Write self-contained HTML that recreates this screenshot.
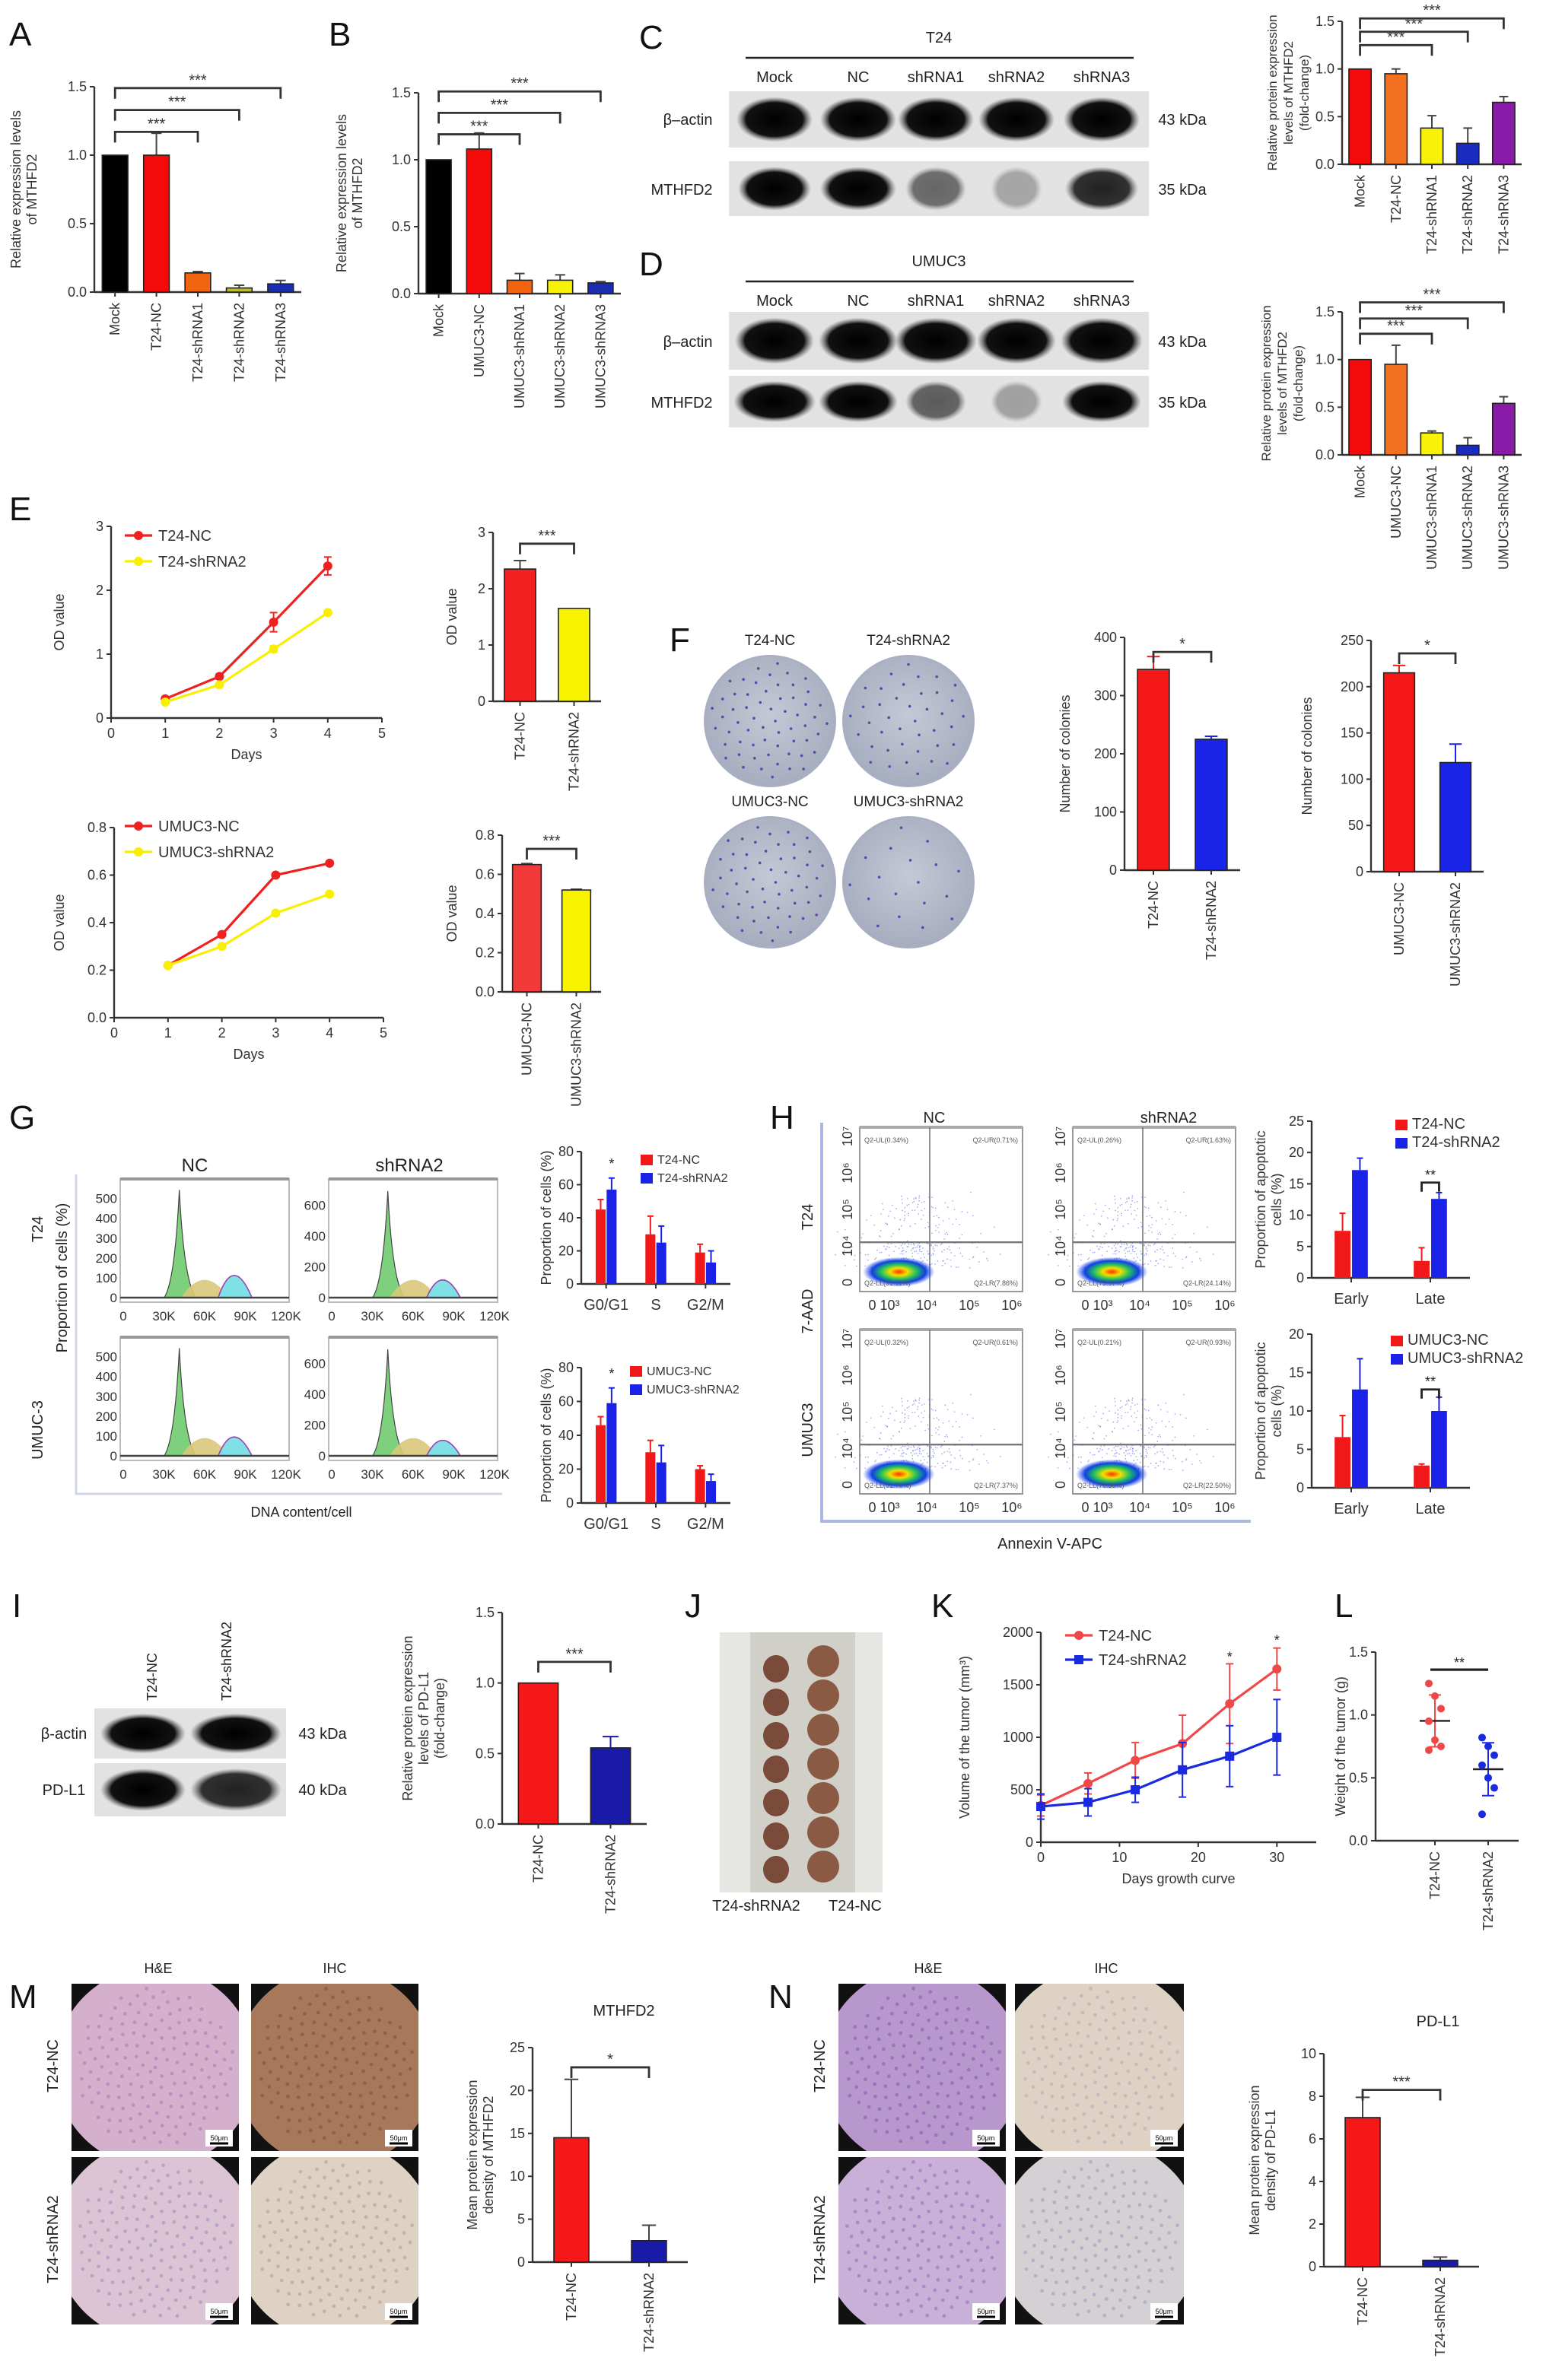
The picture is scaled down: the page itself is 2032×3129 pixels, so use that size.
<!DOCTYPE html>
<html><head><meta charset="utf-8"><style>
html,body{margin:0;padding:0;background:#fff}
svg{display:block;font-family:"Liberation Sans",Arial,sans-serif}
</style></head><body>
<svg id="fig" xmlns="http://www.w3.org/2000/svg" width="2032" height="3129" viewBox="0 0 1016 1564.5">
<defs>
<radialGradient id="blob" cx="50%" cy="50%" r="50%"><stop offset="0" stop-color="#ff3000"/><stop offset="0.25" stop-color="#f0e000"/><stop offset="0.5" stop-color="#20c060"/><stop offset="0.75" stop-color="#1040e0"/><stop offset="1" stop-color="#2040ff" stop-opacity="0"/></radialGradient>
<radialGradient id="band" cx="50%" cy="50%" r="50%"><stop offset="0" stop-color="#000"/><stop offset="0.75" stop-color="#111"/><stop offset="1" stop-color="#555" stop-opacity="0"/></radialGradient>
<radialGradient id="plate" cx="50%" cy="45%" r="55%"><stop offset="0" stop-color="#c4c9d6"/><stop offset="1" stop-color="#a6adbe"/></radialGradient>
</defs>
<g id="root"></g>
</svg>
<script>
// ---------- data ----------
const catsA=['Mock','T24-NC','T24-shRNA1','T24-shRNA2','T24-shRNA3'];
const valsA=[1,1,0.14,0.03,0.06];
const errsA=[0,0.16,0.01,0.02,0.025];
const catsB=['Mock','UMUC3-NC','UMUC3-shRNA1','UMUC3-shRNA2','UMUC3-shRNA3'];
const valsB=[1,1.08,0.1,0.1,0.08];
const errsB=[0,0.12,0.05,0.04,0.01];
const catsC=['Mock','T24-NC','T24-shRNA1','T24-shRNA2','T24-shRNA3'];
const valsC=[1,0.95,0.38,0.22,0.65];
const errsC=[0,0.05,0.13,0.16,0.06];
const catsD=['Mock','UMUC3-NC','UMUC3-shRNA1','UMUC3-shRNA2','UMUC3-shRNA3'];
const valsD=[1,0.95,0.23,0.1,0.54];
const errsD=[0,0.2,0.02,0.08,0.07];
const ticks15=[0,0.5,1.0,1.5];
const days=[1,2,3,4];
const e1NC=[0.3,0.65,1.5,2.38];
const e1NCerr=[0.03,0.04,0.15,0.14];
const e1SH=[0.25,0.52,1.08,1.65];
const e1SHerr=[0.02,0.03,0.05,0.04];
const e1Bar=[2.35,1.65];
const e1BarErr=[0.15,0.0];
const e2NC=[0.22,0.35,0.6,0.65];
const e2SH=[0.22,0.3,0.44,0.52];
const e2Bar=[0.65,0.52];
const e2BarErr=[0.005,0.004];
const f1Vals=[345,225];
const f1Errs=[22,5];
const f2Vals=[215,118];
const f2Errs=[8,20];
const gCats=['G0/G1','S','G2/M'];
const g1NC=[45,30,19];
const g1NCerr=[6,11,5];
const g1SH=[57,25,13];
const g1SHerr=[7,10,7];
const g2NC=[46,30,20];
const g2NCerr=[5,7,2];
const g2SH=[59,24,13];
const g2SHerr=[9,10,4];
const hCats=['Early','Late'];
const h1NC=[7.5,2.7];
const h1NCerr=[2.8,2.1];
const h1SH=[17.2,12.6];
const h1SHerr=[1.9,1];
const h2NC=[6.6,2.9];
const h2NCerr=[2.8,0.2];
const h2SH=[12.8,10];
const h2SHerr=[4,1.8];
const iVals=[1,0.54];
const iErrs=[0,0.08];
const kDays=[0,6,12,18,24,30];
const kNC=[350,560,780,940,1320,1650];
const kNCerr=[100,100,170,270,380,200];
const kSH=[340,380,500,690,820,1000];
const kSHerr=[120,130,120,260,290,360];
const lNC=[1.25,1.15,1.05,0.95,0.8,0.75,0.72];
const lSH=[0.82,0.75,0.68,0.6,0.5,0.42,0.21];
const mVals=[14.5,2.5];
const mErrs=[6.8,1.8];
const nVals=[7,0.3];
const nErrs=[0.95,0.15];
const pairCats=['T24-NC','T24-shRNA2'];
const pairCatsU=['UMUC3-NC','UMUC3-shRNA2'];

// ---------- helpers ----------
const NS='http://www.w3.org/2000/svg';
const root=document.getElementById('root');
function mk(tag,attrs,parent,name){
  const e=document.createElementNS(NS,tag);
  for(const k in attrs)e.setAttribute(k,attrs[k]);
  
  
  (parent||root).appendChild(e);return e;
}
function txt(x,y,s,size,parent,name,opt){
  opt=opt||{};
  const a={x:x,y:y,'font-size':size,fill:opt.fill||'#222','text-anchor':opt.anchor||'middle'};
  if(opt.rot!==undefined)a.transform='rotate('+opt.rot+' '+x+' '+y+')';
  const t=mk('text',a,parent,name);t.textContent=s;return t;
}
function line(x1,y1,x2,y2,parent,name,c,w){return mk('line',{x1:x1,y1:y1,x2:x2,y2:y2,stroke:c||'#222','stroke-width':w||1},parent,name);}
function panelLabel(x,y,s){txt(x,y,s,22,root,'panel-label-'+s.toLowerCase(),{anchor:'start',fill:'#111'});}
function fmt(v,d){return d===undefined?String(v):v.toFixed(d);}

function yAxis(g,c){
  const sy=v=>c.yb-(v/c.max)*(c.yb-c.yt);
  line(c.x0,c.yb,c.x0,c.yt,g,'y-axis-line','#333',1.2);
  c.ticks.forEach(t=>{line(c.x0-3,sy(t),c.x0,sy(t),g,'y-tick','#333',1);
    txt(c.x0-5,sy(t)+3,fmt(t,c.dec),c.fs||9,g,'y-tick-label',{anchor:'end',fill:'#333'});});
  if(c.ylab){const n=c.ylab.length;c.ylab.forEach((l,i)=>txt(c.ylx-(n-1-i)*10.5,(c.yb+c.yt)/2,l,c.yfs||9,g,'y-axis-title',{rot:-90,fill:'#333'}));}
  return sy;
}
function barChart(name,c){
  const g=mk('g',{},root,name);
  const sy=yAxis(g,c);
  line(c.x0,c.yb,c.x1,c.yb,g,'x-axis-line','#333',1.2);
  const n=c.vals.length,bw=(c.x1-c.x0)/n;
  c.vals.forEach((v,i)=>{
    const cx=c.x0+bw*(i+0.5),w=bw*(c.bwf||0.62);
    if(c.errs[i]>0){line(cx,sy(v),cx,sy(v+c.errs[i]),g,'error-bar',c.ecol?c.ecol[i]:'#444',1);
      line(cx-w*0.2,sy(v+c.errs[i]),cx+w*0.2,sy(v+c.errs[i]),g,'error-cap',c.ecol?c.ecol[i]:'#444',1);}
    mk('rect',{x:cx-w/2,y:sy(v),width:w,height:c.yb-sy(v),fill:c.colors[i],stroke:'#222','stroke-width':0.8},g,'bar-'+c.cats[i].toLowerCase());
    line(cx,c.yb,cx,c.yb+3,g,'x-tick','#333',1);
    txt(cx+3,c.yb+7,c.cats[i],c.cfs||9,g,'x-tick-label',{anchor:'end',rot:-90,fill:'#333'});
  });
  (c.sig||[]).forEach(s=>{
    const xa=c.x0+bw*(s[0]+0.5),xb=c.x0+bw*(s[1]+0.5),y=sy(s[2]);
    mk('path',{d:'M'+xa+' '+(y+7)+'V'+y+'H'+xb+'V'+(y+7),fill:'none',stroke:'#333','stroke-width':1.4},g,'significance-bracket');
    txt((xa+xb)/2,y-2,s[3],10,g,'significance-label',{fill:'#333'});
  });
  return g;
}
function groupedBar(name,c){
  const g=mk('g',{},root,name);
  const sy=yAxis(g,c);
  line(c.x0,c.yb,c.x1,c.yb,g,'x-axis-line','#333',1.2);
  const n=c.cats.length,bw=(c.x1-c.x0)/n,w=bw*c.bwf;
  c.cats.forEach((cat,i)=>{
    const cx=c.x0+bw*(i+0.5);
    [[c.a,c.ae,'#f01818',-1],[c.b,c.be,'#1a22e8',1]].forEach(sr=>{
      const v=sr[0][i],e=sr[1][i],x=cx+sr[3]*w*0.55;
      line(x,sy(v),x,sy(v+e),g,'error-bar',sr[2],1);
      line(x-2,sy(v+e),x+2,sy(v+e),g,'error-cap',sr[2],1);
      mk('rect',{x:x-w/2,y:sy(v),width:w,height:c.yb-sy(v),fill:sr[2]},g,'bar-'+cat.toLowerCase());
    });
    line(cx,c.yb,cx,c.yb+3,g,'x-tick','#333',1);
    txt(cx,c.yb+17,cat,c.cfs||10,g,'x-tick-label',{fill:'#333'});
  });
  c.leg.forEach((l,i)=>{mk('rect',{x:c.lx,y:c.ly+i*12-6,width:8,height:7,fill:i?'#1a22e8':'#f01818'},g,'legend-swatch');
    txt(c.lx+11,c.ly+i*12,l,c.lfs||9,g,'legend-entry',{anchor:'start',fill:'#333'});});
  (c.sig||[]).forEach(s=>{const cx=c.x0+bw*(s[0]+0.5),y=sy(s[1]);
    if(s[3]){mk('path',{d:'M'+(cx-w*0.55)+' '+(y+6)+'V'+y+'H'+(cx+w*0.55)+'V'+(y+6),fill:'none',stroke:'#222','stroke-width':1.4},g,'significance-bracket');}
    txt(cx+(s[3]?0:w*0.55),y-2,s[2],9,g,'significance-label',{fill:'#222'});});
  return g;
}
function lineChart(name,c){
  const g=mk('g',{},root,name);
  const sy=yAxis(g,c);
  const sx=v=>c.x0+(v-c.xmin)/(c.xmax-c.xmin)*(c.x1-c.x0);
  line(c.x0,c.yb,c.x1,c.yb,g,'x-axis-line','#333',1.2);
  c.xticks.forEach(t=>{line(sx(t),c.yb,sx(t),c.yb+3,g,'x-tick','#333',1);txt(sx(t),c.yb+13,String(t),9,g,'x-tick-label',{fill:'#333'});});
  txt((c.x0+c.x1)/2,c.yb+27,c.xlab,9,g,'x-axis-title',{fill:'#333'});
  c.series.forEach(s=>{
    let d='';c.xs.forEach((x,i)=>{d+=(i?'L':'M')+sx(x)+' '+sy(s.v[i]);});
    if(s.e)c.xs.forEach((x,i)=>{line(sx(x),sy(s.v[i]-s.e[i]),sx(x),sy(s.v[i]+s.e[i]),g,'error-bar',s.col,1);
      line(sx(x)-2.5,sy(s.v[i]+s.e[i]),sx(x)+2.5,sy(s.v[i]+s.e[i]),g,'error-cap',s.col,1);
      line(sx(x)-2.5,sy(s.v[i]-s.e[i]),sx(x)+2.5,sy(s.v[i]-s.e[i]),g,'error-cap',s.col,1);});
    mk('path',{d:d,fill:'none',stroke:s.col,'stroke-width':1.6},g,'series-line');
    c.xs.forEach((x,i)=>{if(s.sq)mk('rect',{x:sx(x)-3,y:sy(s.v[i])-3,width:6,height:6,fill:s.col},g,'series-point');
      else mk('circle',{cx:sx(x),cy:sy(s.v[i]),r:3,fill:s.col},g,'series-point');});
  });
  c.leg.forEach((l,i)=>{const y=c.ly+i*c.lgap;line(c.lx,y,c.lx+18,y,g,'legend-line',c.series[i].col,1.6);
    if(c.series[i].sq)mk('rect',{x:c.lx+6,y:y-3,width:6,height:6,fill:c.series[i].col},g,'legend-marker');
    else mk('circle',{cx:c.lx+9,cy:y,r:3,fill:c.series[i].col},g,'legend-marker');
    txt(c.lx+22,y+3.5,l,10,g,'legend-entry',{anchor:'start',fill:'#333'});});
  return {g:g,sx:sx,sy:sy};
}

// ---------- A ----------
panelLabel(6,30,'A');
barChart('chart-a',{x0:62,x1:198,yb:192,yt:57,max:1.5,ticks:ticks15,dec:1,vals:valsA,errs:errsA,cats:catsA,
 colors:['#000','#f50a0a','#f26510','#b9bd2a','#1a2cb0'],ylab:['Relative expression levels','of MTHFD2'],ylx:24,
 sig:[[0,2,1.17,'***'],[0,3,1.33,'***'],[0,4,1.49,'***']]});
// ---------- B ----------
panelLabel(216,30,'B');
barChart('chart-b',{x0:275,x1:408,yb:193,yt:61,max:1.5,ticks:ticks15,dec:1,vals:valsB,errs:errsB,cats:catsB,
 colors:['#000','#f50a0a','#f26510','#f8f208','#1a2cb0'],ylab:['Relative expression levels','of MTHFD2'],ylx:238,
 sig:[[0,2,1.19,'***'],[0,3,1.35,'***'],[0,4,1.51,'***']]});

// ---------- blots ----------
function blot(name,x,y,w,h,cols,intens,widths){
  const g=mk('g',{},root,name);
  mk('rect',{x:x,y:y,width:w,height:h,fill:'#e2e2e2'},g,'blot-background');
  cols.forEach((cx,i)=>{mk('ellipse',{cx:cx,cy:y+h/2,rx:(widths?widths[i]:25),ry:h*0.4,fill:'url(#band)',opacity:intens[i]},g,'blot-band');});
  return g;
}
const colsC=[509,564,615,668,724];
function blotHeader(name,y,title){
  const g=mk('g',{},root,name);
  txt(617,y,title,10,g,'blot-title');
  line(490,y+10,745,y+10,g,'blot-header-line','#222',1.2);
  ['Mock','NC','shRNA1','shRNA2','shRNA3'].forEach((s,i)=>txt(colsC[i],y+26,s,10,g,'lane-label'));
}
panelLabel(420,32,'C');
blotHeader('blot-c-header',28,'T24');
blot('blot-c-actin',479,60,276,37,colsC,[1,1,1,1,1]);
blot('blot-c-mthfd2',479,106,276,36,colsC,[1,1,0.55,0.28,0.85],[24,25,20,17,24]);
txt(452,82,'β–actin',10,root,'row-label-beta-actin');
txt(448,128,'MTHFD2',10,root,'row-label-mthfd2');
txt(777,82,'43 kDa',10,root,'kda-label');txt(777,128,'35 kDa',10,root,'kda-label');
panelLabel(420,181,'D');
blotHeader('blot-d-header',175,'UMUC3');
blot('blot-d-actin',479,205,276,38,colsC,[1,1,1,1,1],[26,26,27,26,27]);
blot('blot-d-mthfd2',479,247,276,34,colsC,[1,1,0.6,0.3,1],[27,26,20,17,26]);
txt(452,228,'β–actin',10,root,'row-label-beta-actin');
txt(448,268,'MTHFD2',10,root,'row-label-mthfd2');
txt(777,228,'43 kDa',10,root,'kda-label');txt(777,268,'35 kDa',10,root,'kda-label');
const colC=['#f50a0a','#f27020','#f8f208','#1a2cc0','#8a1aa8'];
barChart('chart-c',{x0:882,x1:1000,yb:108,yt:14,max:1.5,ticks:ticks15,dec:1,vals:valsC,errs:errsC,cats:catsC,colors:colC,
 ylab:['Relative protein expression','levels of MTHFD2','(fold-change)'],ylx:860,yfs:8.5,
 sig:[[0,2,1.25,'***'],[0,3,1.39,'***'],[0,4,1.53,'***']]});
barChart('chart-d',{x0:882,x1:1000,yb:299,yt:205,max:1.5,ticks:ticks15,dec:1,vals:valsD,errs:errsD,cats:catsD,colors:colC,
 ylab:['Relative protein expression','levels of MTHFD2','(fold-change)'],ylx:856,yfs:8.5,
 sig:[[0,2,1.27,'***'],[0,3,1.43,'***'],[0,4,1.6,'***']]});

// ---------- E ----------
panelLabel(6,342,'E');
lineChart('chart-e-line-t24',{x0:73,x1:251,yb:472,yt:346,max:3,ticks:[0,1,2,3],dec:0,xmin:0,xmax:5,xticks:[0,1,2,3,4,5],xlab:'Days',
 xs:days,series:[{v:e1NC,e:e1NCerr,col:'#f02020'},{v:e1SH,e:e1SHerr,col:'#f8f000'}],leg:['T24-NC','T24-shRNA2'],lx:82,ly:352,lgap:17,
 ylab:['OD value'],ylx:42});
barChart('chart-e-bar-t24',{x0:324,x1:395,yb:461,yt:350,max:3,ticks:[0,1,2,3],dec:0,vals:e1Bar,errs:e1BarErr,cats:['T24-NC','T24-shRNA2'],
 colors:['#f22020','#f8f400'],bwf:0.58,ylab:['OD value'],ylx:300,sig:[[0,1,2.8,'***']]});
lineChart('chart-e-line-umuc3',{x0:75,x1:252,yb:669,yt:544,max:0.8,ticks:[0,0.2,0.4,0.6,0.8],dec:1,xmin:0,xmax:5,xticks:[0,1,2,3,4,5],xlab:'Days',
 xs:days,series:[{v:e2NC,col:'#f02020'},{v:e2SH,col:'#f8f000'}],leg:['UMUC3-NC','UMUC3-shRNA2'],lx:82,ly:543,lgap:17,
 ylab:['OD value'],ylx:42});
barChart('chart-e-bar-umuc3',{x0:330,x1:395,yb:652,yt:549,max:0.8,ticks:[0,0.2,0.4,0.6,0.8],dec:1,vals:e2Bar,errs:e2BarErr,cats:['UMUC3-NC','UMUC3-shRNA2'],
 colors:['#f23a3a','#f8f400'],bwf:0.58,ylab:['OD value'],ylx:300,sig:[[0,1,0.73,'***']]});

// ---------- F ----------
panelLabel(440,428,'F');
[[506,474,'T24-NC',60],[597,474,'T24-shRNA2',40],[506,580,'UMUC3-NC',55],[597,580,'UMUC3-shRNA2',18]].forEach(p=>{
  const g=mk('g',{},root,'colony-plate-'+p[2].toLowerCase());
  mk('ellipse',{cx:p[0],cy:p[1],rx:43,ry:43,fill:'url(#plate)',stroke:'#a8aec4','stroke-width':1},g,'plate');
  txt(p[0],p[1]-50,p[2],9.5,g,'plate-label');
  for(let i=0;i<p[3];i++){const a=(i*137.5)*Math.PI/180,r=39*Math.sqrt((i+0.5)/p[3]);
    mk('circle',{cx:p[0]+r*Math.cos(a),cy:p[1]+r*Math.sin(a),r:0.9,fill:'#5a4aa8'},g,'colony');}
});
barChart('chart-f-t24',{x0:739,x1:815,yb:572,yt:419,max:400,ticks:[0,100,200,300,400],vals:f1Vals,errs:f1Errs,cats:pairCats,
 colors:['#f51818','#1a24e8'],bwf:0.55,ecol:['#f51818','#1a24e8'],ylab:['Number of colonies'],ylx:703,sig:[[0,1,375,'*']]});
barChart('chart-f-umuc3',{x0:901,x1:975,yb:573,yt:421,max:250,ticks:[0,50,100,150,200,250],vals:f2Vals,errs:f2Errs,cats:pairCatsU,
 colors:['#f51818','#1a24e8'],bwf:0.55,ecol:['#f51818','#1a24e8'],ylab:['Number of colonies'],ylx:862,sig:[[0,1,236,'*']]});

// ---------- G histograms ----------
panelLabel(6,742,'G');
mk('path',{d:'M50 772V982H330',fill:'none',stroke:'#d0d6ec','stroke-width':1.5},root,'histogram-frame');
txt(128,770,'NC',12,root,'col-label-nc');txt(269,770,'shRNA2',12,root,'col-label-shrna2');
txt(28,808,'T24',10,root,'row-label-t24',{rot:-90});txt(28,940,'UMUC-3',10,root,'row-label-umuc3',{rot:-90});
txt(44,840,'Proportion of cells (%)',10,root,'y-axis-title',{rot:-90});
txt(198,997,'DNA content/cell',9,root,'x-axis-title');
function histo(name,x,y,w,h,ticks,tmax,p1,p2){
  const g=mk('g',{},root,name);
  mk('rect',{x:x,y:y,width:w,height:h,fill:'#fff',stroke:'#bbb','stroke-width':1},g,'histogram-box');
  line(x,y,x+w,y,g,'histogram-top','#999',2);
  ticks.forEach(t=>{const yy=y+h-3-(t/tmax)*(h-8);txt(x-2,yy+3,String(t),8.5,g,'y-tick-label',{anchor:'end',fill:'#333'});});
  ['0','30K','60K','90K','120K'].forEach((t,i)=>txt(x+2+i*(w-4)/4,y+h+12,t,8.5,g,'x-tick-label',{fill:'#333'}));
  const bx=x+w*0.35,by=y+h-3;
  mk('path',{d:'M'+(x+w*0.26)+' '+by+'Q'+(bx-3)+' '+(by-10)+' '+bx+' '+(by-(h-8)*p1)+'Q'+(bx+3)+' '+(by-10)+' '+(x+w*0.45)+' '+by+'Z',fill:'#7ed07e',stroke:'#444','stroke-width':0.6},g,'g0g1-peak');
  mk('path',{d:'M'+(x+w*0.36)+' '+by+'Q'+(x+w*0.5)+' '+(by-(h-8)*0.32)+' '+(x+w*0.64)+' '+by+'Z',fill:'#d9c87a',opacity:0.9},g,'s-phase');
  mk('path',{d:'M'+(x+w*0.58)+' '+by+'Q'+(x+w*0.67)+' '+(by-(h-8)*p2*2)+' '+(x+w*0.78)+' '+by+'Z',fill:'#7fe0e6',stroke:'#a040b0','stroke-width':0.8},g,'g2m-peak');
  line(x,by,x+w,by,g,'baseline','#444',1.2);
}
histo('histogram-t24-nc',79,775,111,81,[0,100,200,300,400,500],560,0.97,0.2);
histo('histogram-t24-shrna2',216,775,111,81,[0,200,400,600],720,0.96,0.16);
histo('histogram-umuc3-nc',79,879,111,81,[0,100,200,300,400,500],560,0.97,0.17);
histo('histogram-umuc3-shrna2',216,879,111,81,[0,200,400,600],720,0.96,0.14);
groupedBar('chart-g-t24',{x0:382,x1:480,yb:844,yt:757,max:80,ticks:[0,20,40,60,80],cats:gCats,a:g1NC,ae:g1NCerr,b:g1SH,be:g1SHerr,bwf:0.2,
 ylab:['Proportion of cells (%)'],ylx:362,leg:['T24-NC','T24-shRNA2'],lx:421,ly:765,lfs:8,sig:[[0,68,'*']]});
groupedBar('chart-g-umuc3',{x0:382,x1:480,yb:988,yt:899,max:80,ticks:[0,20,40,60,80],cats:gCats,a:g2NC,ae:g2NCerr,b:g2SH,be:g2SHerr,bwf:0.2,
 ylab:['Proportion of cells (%)'],ylx:362,leg:['UMUC3-NC','UMUC3-shRNA2'],lx:414,ly:904,lfs:8,sig:[[0,72,'*']]});

// ---------- H flow ----------
panelLabel(506,742,'H');
mk('path',{d:'M540 738V1000H822',fill:'none',stroke:'#a8b8e0','stroke-width':2},root,'flow-frame');
txt(614,738,'NC',10,root,'col-label-nc');txt(768,738,'shRNA2',10,root,'col-label-shrna2');
txt(534,800,'T24',10,root,'row-label-t24',{rot:-90});txt(534,940,'UMUC3',10,root,'row-label-umuc3',{rot:-90});
txt(534,862,'7-AAD',10,root,'y-axis-title',{rot:-90});
txt(690,1018,'Annexin V-APC',10,root,'x-axis-title');
function flow(name,x,y,s){
  const g=mk('g',{},root,name);
  const w=107,h=108;
  mk('rect',{x:x,y:y,width:w,height:h,fill:'#fff',stroke:'#999','stroke-width':1},g,'flow-box');
  line(x,y,x+w,y,g,'flow-top','#aaa',2);
  line(x+w*0.43,y,x+w*0.43,y+h,g,'quadrant-v','#777',0.8);
  line(x,y+h*0.7,x+w,y+h*0.7,g,'quadrant-h','#777',1.2);
  for(let i=0;i<260;i++){const a=i*2.39996,r=Math.sqrt(i/260);
    const px=x+w*0.35+Math.cos(a)*r*w*(0.12+0.5*((i*7)%11)/11),py=y+h*0.86-Math.abs(Math.sin(a))*r*h*(0.2+0.5*((i*3)%13)/13);
    mk('circle',{cx:px,cy:py,r:0.4,fill:'#5060e0',opacity:0.6},g,'event-dot');}
  mk('ellipse',{cx:x+w*0.24,cy:y+h*0.88,rx:w*0.22,ry:h*0.09,fill:'url(#blob)'},g,'density-blob');
  ['0 10³','10⁴','10⁵','10⁶'].forEach((t,i)=>txt(x+16+i*28,y+h+12,t,9,g,'x-tick-label',{fill:'#333'}));
  ['0','10⁴','10⁵','10⁶','10⁷'].forEach((t,i)=>txt(x-5,y+h-6-i*24,t,9,g,'y-tick-label',{rot:-90,fill:'#333'}));
  txt(x+3,y+10,'Q2-UL('+s[0]+')',4.5,g,'quadrant-label',{anchor:'start',fill:'#555'});
  txt(x+w-3,y+10,'Q2-UR('+s[1]+')',4.5,g,'quadrant-label',{anchor:'end',fill:'#555'});
  txt(x+3,y+h-4,'Q2-LL('+s[2]+')',4.5,g,'quadrant-label',{anchor:'start',fill:'#555'});
  txt(x+w-3,y+h-4,'Q2-LR('+s[3]+')',4.5,g,'quadrant-label',{anchor:'end',fill:'#555'});
}
flow('flow-t24-nc',565,741,['0.34%','0.71%','91.11%','7.86%']);
flow('flow-t24-shrna2',705,741,['0.26%','1.63%','73.97%','24.14%']);
flow('flow-umuc3-nc',565,874,['0.32%','0.61%','91.70%','7.37%']);
flow('flow-umuc3-shrna2',705,874,['0.21%','0.93%','76.36%','22.50%']);
groupedBar('chart-h-t24',{x0:862,x1:966,yb:840,yt:737,max:25,ticks:[0,5,10,15,20,25],cats:hCats,a:h1NC,ae:h1NCerr,b:h1SH,be:h1SHerr,bwf:0.2,
 ylab:['Proportion of apoptotic','cells (%)'],ylx:842,leg:['T24-NC','T24-shRNA2'],lx:917,ly:742,lfs:10,sig:[[1,15.2,'**',1]]});
groupedBar('chart-h-umuc3',{x0:862,x1:966,yb:978,yt:877,max:20,ticks:[0,5,10,15,20],cats:hCats,a:h2NC,ae:h2NCerr,b:h2SH,be:h2SHerr,bwf:0.2,
 ylab:['Proportion of apoptotic','cells (%)'],ylx:842,leg:['UMUC3-NC','UMUC3-shRNA2'],lx:914,ly:884,lfs:10,sig:[[1,12.8,'**',1]]});

// ---------- I ----------
panelLabel(8,1063,'I');
txt(103,1118,'T24-NC',9,root,'lane-label',{rot:-90,anchor:'start'});
txt(152,1118,'T24-shRNA2',9,root,'lane-label',{rot:-90,anchor:'start'});
blot('blot-i-actin',62,1123,126,33,[94,155],[1,1],[28,30]);
blot('blot-i-pdl1',62,1159,126,35,[94,155],[1,0.85],[28,30]);
txt(42,1143,'β-actin',10,root,'row-label-beta-actin');txt(42,1180,'PD-L1',10,root,'row-label-pdl1');
txt(212,1143,'43 kDa',10,root,'kda-label');txt(212,1180,'40 kDa',10,root,'kda-label');
barChart('chart-i',{x0:330,x1:425,yb:1199,yt:1060,max:1.5,ticks:ticks15,dec:1,vals:iVals,errs:iErrs,cats:pairCats,
 colors:['#f51818','#1a1aa8'],bwf:0.55,ecol:['#f51818','#1a1aa8'],ylab:['Relative protein expression','levels of PD-L1','(fold-change)'],ylx:292,sig:[[0,1,1.15,'***']]});

// ---------- J ----------
panelLabel(450,1063,'J');
(function(){const g=mk('g',{},root,'tumor-photo');
  mk('rect',{x:473,y:1073,width:107,height:171,fill:'#d0d0c8'},g,'photo-background');
  mk('rect',{x:473,y:1073,width:20,height:171,fill:'#e6e6e2'},g,'ruler-left');
  mk('rect',{x:562,y:1073,width:18,height:171,fill:'#e6e6e2'},g,'ruler-right');
  for(let i=0;i<7;i++){mk('ellipse',{cx:510,cy:1097+i*22,rx:8.5,ry:9,fill:'#7a4a3a'},g,'tumor-shrna2');
    mk('ellipse',{cx:541,cy:1092+i*22.5,rx:10.5,ry:10.5,fill:'#8a5a45'},g,'tumor-nc');}
  txt(497,1256,'T24-shRNA2',10,g,'photo-label');txt(562,1256,'T24-NC',10,g,'photo-label');})();

// ---------- K ----------
panelLabel(612,1063,'K');
const kc=lineChart('chart-k',{x0:684,x1:865,yb:1211,yt:1073,max:2000,ticks:[0,500,1000,1500,2000],xmin:0,xmax:35,xticks:[0,10,20,30],xlab:'Days growth curve',
 xs:kDays,series:[{v:kNC,e:kNCerr,col:'#f04848'},{v:kSH,e:kSHerr,col:'#1a2ae0',sq:true}],leg:['T24-NC','T24-shRNA2'],lx:700,ly:1075,lgap:16,
 ylab:['Volume of the tumor (mm³)'],ylx:637});
txt(kc.sx(24),kc.sy(1720),'*',9,root,'significance-label');txt(kc.sx(30),kc.sy(1880),'*',9,root,'significance-label');

// ---------- L ----------
panelLabel(877,1063,'L');
(function(){const g=mk('g',{},root,'chart-l');
  const c={x0:904,yb:1210,yt:1086,max:1.5,ticks:[0,0.5,1.0,1.5],dec:1,ylab:['Weight of the tumor (g)'],ylx:884};
  const sy=yAxis(g,c);line(904,1210,998,1210,g,'x-axis-line','#333',1.2);
  [[lNC,943,'#f04848','T24-NC'],[lSH,978,'#1a2ae0','T24-shRNA2']].forEach(s=>{
    const m=s[0].reduce((a,b)=>a+b,0)/s[0].length;
    const sd=Math.sqrt(s[0].reduce((a,b)=>a+(b-m)*(b-m),0)/(s[0].length-1));
    line(s[1],sy(m-sd),s[1],sy(m+sd),g,'sd-line',s[2],1);
    line(s[1]-4,sy(m+sd),s[1]+4,sy(m+sd),g,'sd-cap',s[2],1);line(s[1]-4,sy(m-sd),s[1]+4,sy(m-sd),g,'sd-cap',s[2],1);
    line(s[1]-10,sy(m),s[1]+10,sy(m),g,'mean-line','#222',1.2);
    s[0].forEach((v,i)=>mk('circle',{cx:s[1]+((i%3)-1)*4,cy:sy(v),r:2.5,fill:s[2]},g,'data-point'));
    line(s[1],1210,s[1],1213,g,'x-tick','#333',1);
    txt(s[1]+3,1217,s[3],9,g,'x-tick-label',{anchor:'end',rot:-90,fill:'#333'});
  });
  line(940,sy(1.36),978,sy(1.36),g,'significance-line','#222',1.6);
  txt(959,sy(1.38),'**',9,g,'significance-label');})();

// ---------- M / N micrographs ----------
const defs=document.querySelector('defs');
let clipN=0;
function micro(name,x,y,w,h,col,dot){
  const g=mk('g',{},root,name);
  const id='clip'+(clipN++);
  const cp=mk('clipPath',{id:id},defs,'clip-region');
  mk('rect',{x:x,y:y,width:w,height:h},cp,'clip-rect');
  const inner=mk('g',{'clip-path':'url(#'+id+')'},g,'image');
  mk('rect',{x:x,y:y,width:w,height:h,fill:'#111'},inner,'image-corners');
  mk('ellipse',{cx:x+w/2,cy:y+h/2,rx:w*0.6,ry:h*0.6,fill:col},inner,'tissue');
  for(let i=0;i<160;i++){const a=i*2.39996,r=Math.sqrt(i/160)*0.95;
    mk('circle',{cx:x+w/2+Math.cos(a)*r*w*0.5,cy:y+h/2+Math.sin(a)*r*h*0.5,r:1.2,fill:dot,opacity:0.45},inner,'cell');}
  mk('rect',{x:x+w-22,y:y+h-14,width:18,height:11,fill:'#fff'},g,'scale-box');
  txt(x+w-13,y+h-7,'50μm',4.5,g,'scale-label',{fill:'#000'});
  line(x+w-19,y+h-5,x+w-7,y+h-5,g,'scale-bar','#000',1.5);
}
panelLabel(6,1320,'M');
txt(104,1297,'H&E',9,root,'col-label-he');txt(220,1297,'IHC',9,root,'col-label-ihc');
txt(38,1358,'T24-NC',10,root,'row-label',{rot:-90});txt(38,1472,'T24-shRNA2',10,root,'row-label',{rot:-90});
micro('he-m-nc',47,1304,110,110,'#d4b0cc','#9a6ab0');
micro('ihc-m-nc',165,1304,110,110,'#a8785a','#6a4a30');
micro('he-m-sh',47,1418,110,110,'#dcc4d4','#8a80b8');
micro('ihc-m-sh',165,1418,110,110,'#ddd2c4','#a89080');
txt(410,1325,'MTHFD2',10,root,'chart-title');
barChart('chart-m',{x0:350,x1:452,yb:1487,yt:1346,max:25,ticks:[0,5,10,15,20,25],vals:mVals,errs:mErrs,cats:pairCats,
 colors:['#f51818','#1a1aa8'],bwf:0.45,ylab:['Mean protein expression','density of MTHFD2'],ylx:324,sig:[[0,1,22.7,'*']]});
panelLabel(505,1320,'N');
txt(610,1297,'H&E',9,root,'col-label-he');txt(727,1297,'IHC',9,root,'col-label-ihc');
txt(542,1358,'T24-NC',10,root,'row-label',{rot:-90});txt(542,1472,'T24-shRNA2',10,root,'row-label',{rot:-90});
micro('he-n-nc',551,1304,110,110,'#b898cc','#7a48a8');
micro('ihc-n-nc',667,1304,111,110,'#ddd2c4','#a8a0b0');
micro('he-n-sh',551,1418,110,110,'#c8b0d8','#8a58b8');
micro('ihc-n-sh',667,1418,111,110,'#d4d0d4','#8890b8');
txt(945,1332,'PD-L1',10,root,'chart-title');
barChart('chart-n',{x0:870,x1:972,yb:1490,yt:1350,max:10,ticks:[0,2,4,6,8,10],vals:nVals,errs:nErrs,cats:pairCats,
 colors:['#f51818','#1a1aa8'],bwf:0.45,ylab:['Mean protein expression','density of PD-L1'],ylx:838,sig:[[0,1,8.3,'***']]});
</script>
</body></html>
